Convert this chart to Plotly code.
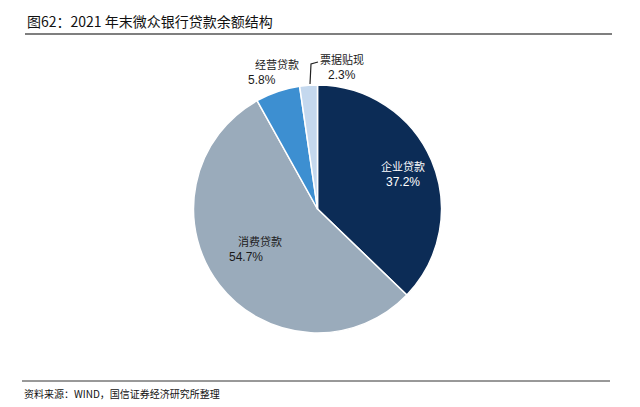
import plotly.graph_objects as go

categories = ["企业贷款", "消费贷款", "经营贷款", "票据贴现"]
values = [37.2, 54.7, 5.8, 2.3]
colors = ["#0c2c56", "#9aabbb", "#3d8fd1", "#c4d8ee"]

W, H = 640, 407
cx, cy, R = 317.5, 209, 124

def px(x):
    return x / W

def py(y):
    return 1 - y / H

fig = go.Figure()
fig.add_trace(go.Pie(
    labels=categories, values=values, sort=False, direction="clockwise", rotation=0,
    marker=dict(colors=colors, line=dict(color="white", width=1.5)),
    textinfo="none", hoverinfo="label+percent", showlegend=False,
    domain=dict(x=[px(cx - R), px(cx + R)], y=[py(cy + R), py(cy - R)]),
))

# label positions (pixel) for each category
label_pos = {
    "企业贷款": (403, 166, 403, 182, "white"),
    "消费贷款": (260, 241, 246, 257, "#1a1a1a"),
    "经营贷款": (277, 64, 262, 80, "#1a1a1a"),
    "票据贴现": (342, 59, 342, 75, "#1a1a1a"),
}
ann = []
for cat, v in zip(categories, values):
    x1, y1, x2, y2, c = label_pos[cat]
    ann.append(dict(x=px(x1), y=py(y1), xref="paper", yref="paper", text=cat, showarrow=False,
                    font=dict(family="Noto Sans CJK SC", size=11, color=c), xanchor="center", yanchor="middle"))
    ann.append(dict(x=px(x2), y=py(y2), xref="paper", yref="paper", text=f"{v:.1f}%", showarrow=False,
                    font=dict(family="Liberation Sans, Arial", size=12, color=c), xanchor="center", yanchor="middle"))

ann.append(dict(x=px(25), y=py(21), xref="paper", yref="paper", text="图62：2021 年末微众银行贷款余额结构",
                showarrow=False, xanchor="left", yanchor="middle",
                font=dict(family="Noto Sans CJK SC", size=14, color="#111111")))
ann.append(dict(x=px(22), y=py(393), xref="paper", yref="paper", text="资料来源：WIND，国信证券经济研究所整理",
                showarrow=False, xanchor="left", yanchor="middle",
                font=dict(family="Noto Sans CJK SC", size=10, color="#111111")))

shapes = [
    dict(type="line", xref="paper", yref="paper", x0=px(25), x1=px(612), y0=py(34), y1=py(34),
         line=dict(color="#555555", width=1.5)),
    dict(type="line", xref="paper", yref="paper", x0=px(22), x1=px(610), y0=py(381), y1=py(381),
         line=dict(color="#333333", width=1)),
    # leader line for 票据贴现
    dict(type="path", xref="paper", yref="paper",
         path=f"M {px(310)},{py(84)} L {px(311)},{py(64)} L {px(318)},{py(62)}",
         line=dict(color="#222222", width=1.2)),
]

fig.update_layout(
    width=W, height=H, margin=dict(l=0, r=0, t=0, b=0),
    paper_bgcolor="white", plot_bgcolor="white",
    annotations=ann, shapes=shapes,
)
fig.write_html("out.html")
